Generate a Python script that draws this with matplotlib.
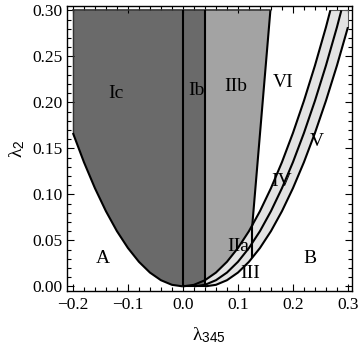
import matplotlib
matplotlib.use("Agg")
import matplotlib.pyplot as plt
from matplotlib.ticker import MultipleLocator, FuncFormatter


lam2_levels = [0.0, 0.0017, 0.0067, 0.015, 0.0267, 0.0417, 0.06, 0.0817,
               0.1067, 0.135, 0.1667, 0.2017, 0.24, 0.2817, 0.30]

# lambda_345 positions of the curves at those levels
left_x = [0.0, -0.02, -0.04, -0.06, -0.08, -0.10, -0.12, -0.14,
          -0.16, -0.18, -0.20]
c1_x = [0.0, 0.02, 0.04, 0.06, 0.08, 0.10, 0.12, 0.14,
        0.16, 0.18, 0.20, 0.22, 0.24, 0.26, 0.268]
c2_x = [0.02, 0.04, 0.06, 0.08, 0.10, 0.12, 0.14, 0.16,
        0.18, 0.20, 0.22, 0.24, 0.26, 0.28, 0.288]
c3_x = [0.04, 0.06, 0.08, 0.10, 0.12, 0.14, 0.16, 0.18,
        0.20, 0.22, 0.24, 0.26, 0.28, 0.30]

# boundary between IIb and VI
split_x = [0.126, 0.159]
split_y = [0.066, 0.30]
# short vertical piece at the bottom of the split
seg_x = [0.126, 0.126]
seg_y = [0.031, 0.066]

ib_left, ib_right = 0.0, 0.04
x_min, x_max = -0.20, 0.30
y_top = 0.30

labels = ["Ic", "Ib", "IIb", "VI", "V", "IV", "IIa", "III", "A", "B"]
label_x = [-0.122, 0.025, 0.096, 0.182, 0.243, 0.179, 0.100, 0.122, -0.145, 0.231]
label_y = [0.210, 0.213, 0.217, 0.222, 0.157, 0.114, 0.043, 0.014, 0.030, 0.030]

DARK = "#6a6a6a"
MID = "#a3a3a3"
LIGHT = "#e3e3e3"

plt.rcParams["font.family"] = ["Liberation Serif", "DejaVu Serif"]
plt.rcParams["mathtext.fontset"] = "custom"
plt.rcParams["mathtext.rm"] = "Liberation Serif"
plt.rcParams["mathtext.it"] = "Liberation Serif:italic"
plt.rcParams["mathtext.sf"] = "Liberation Sans"

fig = plt.figure(figsize=(3.6, 3.46), dpi=100)
ax = fig.add_axes([0.185, 0.159, 0.793, 0.8245])

n_left = len(left_x)
left_y = lam2_levels[:n_left]

# Ic region
ic_x = [x_min] + left_x[::-1] + [0.0]
ic_y = [y_top] + left_y[::-1] + [y_top]
ax.fill(ic_x, ic_y, color=DARK, lw=0)

# light band between the outer curves
band_x = c1_x + [x_max] + c3_x[::-1] + [0.0]
band_y = lam2_levels + [y_top] + lam2_levels[:len(c3_x)][::-1] + [0.0]
ax.fill(band_x, band_y, color=LIGHT, lw=0)

# IIa / IIb region
mid_x = [ib_right]
mid_y = [y_top]
for x, y in zip(c1_x, lam2_levels):
    if ib_right <= x < split_x[0]:
        mid_x.append(x)
        mid_y.append(y)
mid_x += split_x
mid_y += split_y
ax.fill(mid_x, mid_y, color=MID, lw=0)

# Ib strip
ax.fill([ib_left, ib_right, ib_right, ib_left], [0, 0, y_top, y_top],
        color=DARK, lw=0)

# edges of the plot range
ax.plot([x_min, split_x[1]], [y_top, y_top], color="#333333", lw=1.2)
ax.plot([x_min, x_min], [left_y[-1], y_top], color="#333333", lw=1.0)
ax.plot([c1_x[-1], x_max], [y_top, y_top], color="#555555", lw=0.8)
ax.plot([x_max, x_max], [lam2_levels[len(c3_x) - 1], y_top], color="#555555", lw=0.8)

# boundary curves
kw = dict(color="black", lw=1.5, solid_capstyle="butt")
ax.plot(left_x, left_y, **kw)
ax.plot(c1_x, lam2_levels, **kw)
ax.plot(c2_x, lam2_levels, **kw)
ax.plot(c3_x, lam2_levels[:len(c3_x)], **kw)
ax.plot([ib_left, ib_left], [0, y_top], **kw)
ax.plot([ib_right, ib_right], [0, y_top], **kw)
ax.plot([ib_left, ib_right], [0, 0], **kw)
ax.plot(split_x, split_y, **kw)
ax.plot(seg_x, seg_y, **kw)

for text, x, y in zip(labels, label_x, label_y):
    ax.text(x, y, text, fontsize=14, ha="center", va="center")

ax.set_xlim(-0.2115, 0.3075)
ax.set_ylim(-0.005, 0.305)

ax.xaxis.set_major_locator(MultipleLocator(0.1))
ax.xaxis.set_minor_locator(MultipleLocator(0.02))
ax.yaxis.set_major_locator(MultipleLocator(0.05))
ax.yaxis.set_minor_locator(MultipleLocator(0.01))
ax.xaxis.set_major_formatter(FuncFormatter(lambda v, p: f"{v:.1f}".replace("-", "\u2212")))
ax.yaxis.set_major_formatter(FuncFormatter(lambda v, p: f"{v:.2f}"))

ax.tick_params(which="both", direction="in", top=True, right=True, width=0.8)
ax.tick_params(which="major", length=5, labelsize=12.5)
ax.tick_params(which="minor", length=3)
ax.tick_params(axis="x", pad=4)
ax.tick_params(axis="y", pad=3)
for s in ax.spines.values():
    s.set_linewidth(1.0)

ax.set_xlabel(r"$\mathrm{\lambda}_{\mathsf{345}}$", fontsize=14, labelpad=9)
ax.set_ylabel(r"$\mathrm{\lambda}_{\mathsf{2}}$", fontsize=14, labelpad=4)

fig.savefig("out.png", dpi=100)
